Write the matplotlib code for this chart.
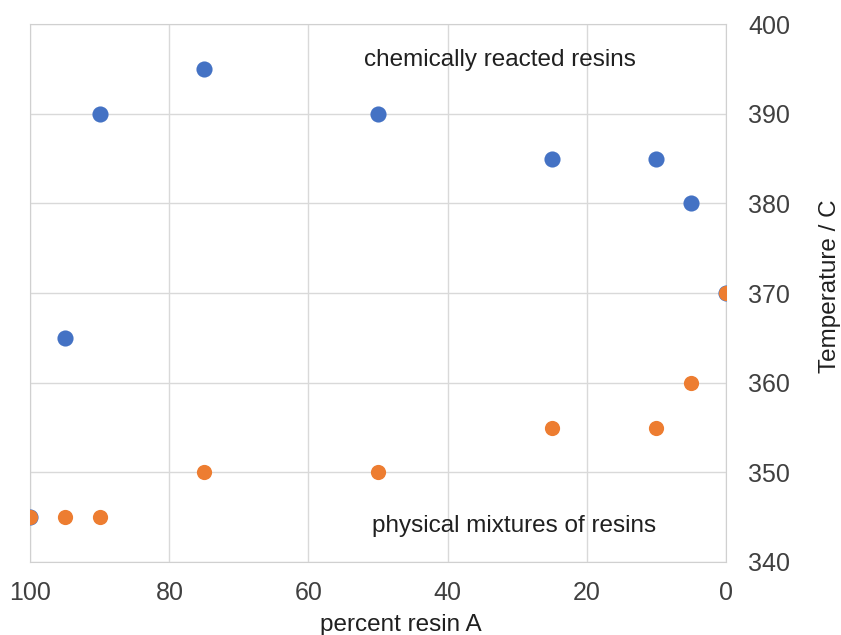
import matplotlib.pyplot as plt

# percent resin A vs. temperature for the two resin systems
pct_resin_a = [100, 95, 90, 75, 50, 25, 10, 5, 0]
temp_reacted = [345, 365, 390, 395, 390, 385, 385, 380, 370]
temp_mixture = [345, 345, 345, 350, 350, 355, 355, 360, 370]

x_ticks = [100, 80, 60, 40, 20, 0]
y_ticks = [340, 350, 360, 370, 380, 390, 400]

plt.rcParams['font.family'] = ['Liberation Sans', 'DejaVu Sans']

fig = plt.figure(figsize=(8.41, 6.35), dpi=100)
ax = fig.add_axes([0.036, 0.115, 0.827, 0.847])

ax.scatter(pct_resin_a, temp_reacted, s=135, color='#4472C4', zorder=3, linewidths=0)
ax.scatter(pct_resin_a, temp_mixture, s=120, color='#ED7D31', zorder=4, linewidths=0)

ax.set_xlim(100, 0)
ax.set_ylim(340, 400)
ax.set_xticks(x_ticks)
ax.set_yticks(y_ticks)

ax.yaxis.tick_right()
ax.yaxis.set_label_position('right')
ax.tick_params(length=0, labelsize=18, colors='#404040')
ax.tick_params(axis='x', pad=14)
ax.tick_params(axis='y', pad=16)

ax.grid(True, color='#d9d9d9', linewidth=1)
ax.set_axisbelow(True)
for sp in ax.spines.values():
    sp.set_color('#d0d0d0')

ax.set_xlabel('percent resin A', fontsize=17.5, color='#202020', va='center')
ax.xaxis.set_label_coords(0.533, -0.117)
ax.set_ylabel('Temperature / C', fontsize=17.5, color='#202020', va='center')
ax.yaxis.set_label_coords(1.150, 0.513)

ax.text(32.5, 396.0, 'chemically reacted resins', fontsize=17.5, ha='center', va='center', color='#202020')
ax.text(30.5, 344.0, 'physical mixtures of resins', fontsize=17.5, ha='center', va='center', color='#202020')

fig.savefig('out.png', dpi=100)
